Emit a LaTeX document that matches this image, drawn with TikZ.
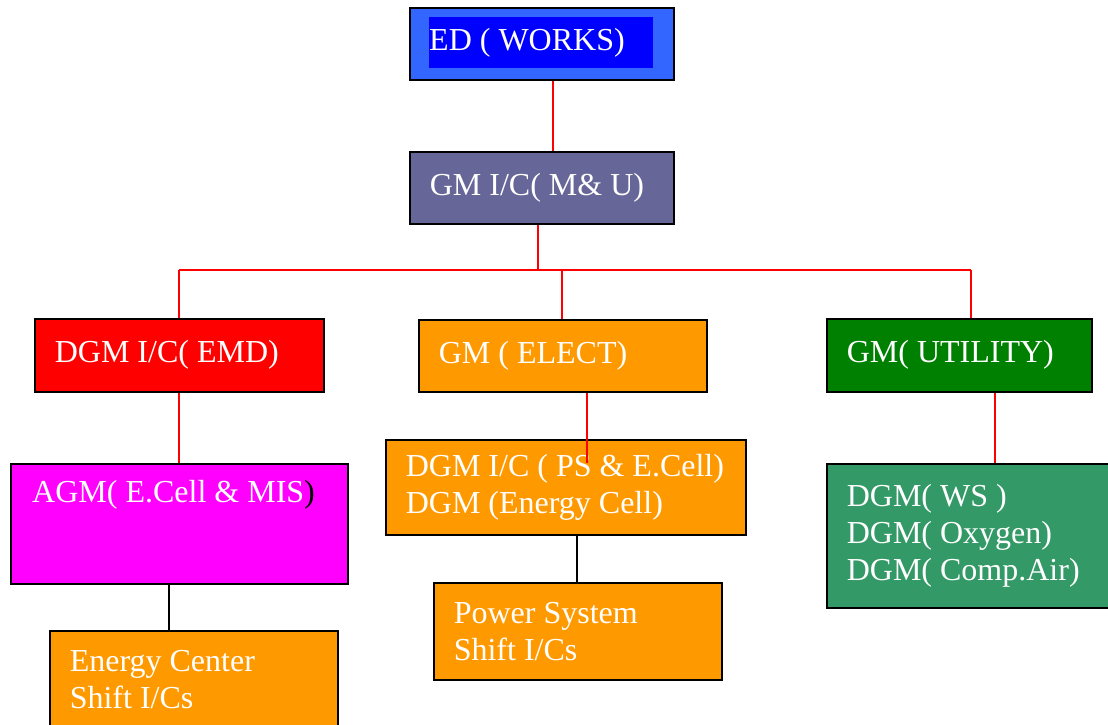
\documentclass[tikz,border=0pt]{standalone}
\usepackage{fontspec}
\setmainfont{Liberation Serif}
\definecolor{edout}{HTML}{3366FF}
\definecolor{edin}{HTML}{0000FF}
\definecolor{slate}{HTML}{666699}
\definecolor{orng}{HTML}{FF9900}
\definecolor{grn}{HTML}{008000}
\definecolor{sea}{HTML}{339966}
\definecolor{mag}{HTML}{FF00FF}
\begin{document}
\begin{tikzpicture}[x=1pt,y=-1pt,
  box/.style={draw=black, line width=1.6pt, anchor=north west, inner xsep=20pt, inner ysep=0pt,
    align=flush left, text=white, font=\fontsize{32}{37}\selectfont},
  lbl/.style={text=white, inner sep=0pt, font=\fontsize{32}{37}\selectfont},
  redline/.style={draw=red, line width=1.3pt},
  blkline/.style={draw=black, line width=1.8pt}]
\useasboundingbox (0,0) rectangle (1108,725);

% boxes
\node[box, fill=edout, minimum width=264pt, minimum height=72pt] (ed) at (409,7) {};
\node[anchor=north west, fill=edin, inner sep=0pt, minimum width=224pt, minimum height=51pt,
  text width=224pt, align=flush left, text=white, font=\fontsize{32}{37}\selectfont] (edi) at (429,17) {ED ( WORKS)};
\node[box, fill=slate, minimum width=264pt, minimum height=72pt, text width=224pt] (gmic) at (409,151) {GM I/C( M\& U)};
\node[box, fill=red, minimum width=289pt, minimum height=73pt, text width=249pt] (emd) at (34,318) {DGM I/C( EMD)};
\node[box, fill=orng, minimum width=288pt, minimum height=72pt, text width=248pt] (elect) at (418,319) {GM ( ELECT)};
\node[box, fill=grn, minimum width=265pt, minimum height=73pt, text width=225pt] (util) at (826,318) {GM( UTILITY)};
\node[box, fill=mag, minimum width=337pt, minimum height=120pt] (agm) at (10,463) {};
\node[lbl, anchor=base west] (agmt) at (32,502) {AGM( E.Cell \& MIS\textcolor{black}{)}};
\node[box, fill=orng, minimum width=360pt, minimum height=95pt, text width=320pt] (ps) at (385,439) {\mbox{DGM I/C ( PS \& E.Cell)}\\DGM (Energy Cell)};
\node[box, fill=sea, minimum width=300pt, minimum height=144pt, text width=260pt] (ws) at (826,463) {DGM( WS )\\DGM( Oxygen)\\DGM( Comp.Air)};
\node[box, fill=orng, minimum width=288pt, minimum height=97pt, text width=248pt] (power) at (433,582) {Power System\\Shift I/Cs};
\node[box, fill=orng, minimum width=288pt, minimum height=98pt, text width=248pt] (energy) at (49,630) {Energy Center\\Shift I/Cs};

% helper coordinates
\coordinate (xa) at (553,0);
\coordinate (xb) at (538,270);
\coordinate (busL) at (179,270);
\coordinate (busM) at (562,270);
\coordinate (busR) at (971,270);
\coordinate (xe) at (587,0);
\coordinate (peEnd) at (587,463);
\coordinate (xu) at (995,0);
\coordinate (xagm) at (169,0);
\coordinate (xps) at (577,0);

% red connectors
\draw[redline] (ed.south -| xa) -- (gmic.north -| xa);
\draw[redline] (gmic.south -| xb) -- (xb);
\draw[redline] (busL) -- (busR);
\draw[redline] (busL) -- (emd.north -| busL);
\draw[redline] (busM) -- (elect.north -| busM);
\draw[redline] (busR) -- (util.north -| busR);
\draw[redline] (emd.south -| busL) -- (agm.north -| busL);
\draw[redline] (elect.south -| xe) -- (peEnd);
\draw[redline] (util.south -| xu) -- (ws.north -| xu);
% black connectors
\draw[blkline] (agm.south -| xagm) -- (energy.north -| xagm);
\draw[blkline] (ps.south -| xps) -- (power.north -| xps);
\end{tikzpicture}
\end{document}
